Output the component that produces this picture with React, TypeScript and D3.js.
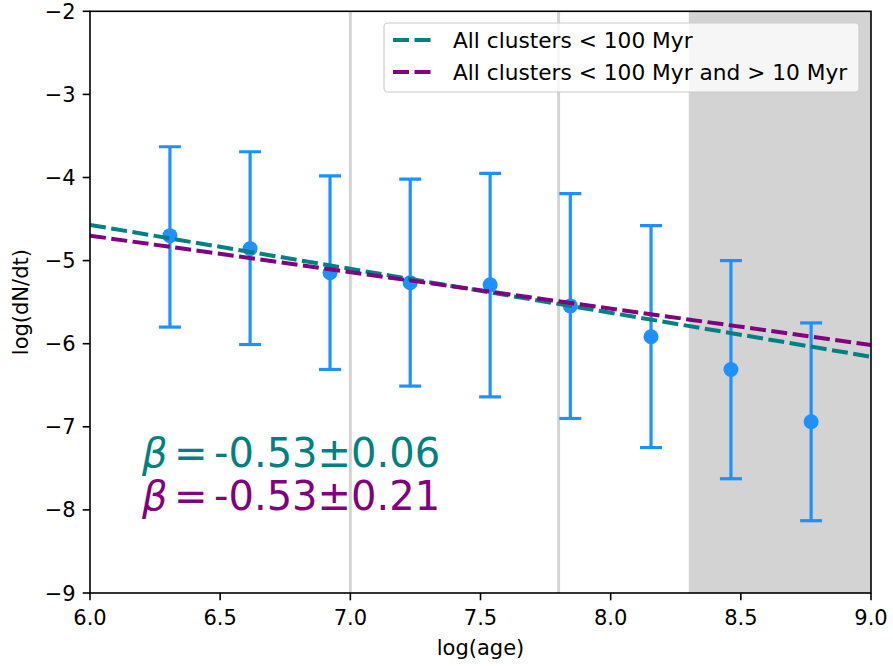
import React from "react";
import * as d3 from "d3";

const logAge = [6.307, 6.615, 6.922, 7.23, 7.537, 7.845, 8.155, 8.462, 8.77];
const logRate = [-4.7, -4.856, -5.146, -5.266, -5.29, -5.545, -5.916, -6.31, -6.94];
const errUpper = [-3.63, -3.69, -3.98, -4.02, -3.95, -4.195, -4.58, -5.0, -5.75];
const errLower = [-5.8, -6.01, -6.31, -6.51, -6.64, -6.9, -7.25, -7.625, -8.13];

const fitTealEnds = [-4.57, -6.157];
const fitPurpleEnds = [-4.70, -6.016];
const fitX = [6.0, 9.0];

const vLines = [7.0, 7.8];
const shadeSpan = [8.3, 9.0];

const xTicks = [6.0, 6.5, 7.0, 7.5, 8.0, 8.5, 9.0];
const yTicks = [-2, -3, -4, -5, -6, -7, -8, -9];

const legendLabels = ["All clusters < 100 Myr", "All clusters < 100 Myr and > 10 Myr"];
const betaTexts = ["-0.53\u00b10.06", "-0.53\u00b10.21"];

const W = 893, H = 666;
const L = 90, R = 871, T = 11.3, B = 593;
const FONT = "DejaVu Sans, sans-serif";
const TEAL = "#008080", PURPLE = "#800080", BLUE = "#1e90ff", GRAY = "#d3d3d3";
const FS = 21;

export default function App() {
  const x = d3.scaleLinear().domain([6, 9]).range([L, R]);
  const y = d3.scaleLinear().domain([-9, -2]).range([B, T]);
  const line = d3.line<[number, number]>().x(d => x(d[0])).y(d => y(d[1]));
  const teal: [number, number][] = fitX.map((v, i) => [v, fitTealEnds[i]]);
  const purple: [number, number][] = fitX.map((v, i) => [v, fitPurpleEnds[i]]);
  const minus = (v: number) => (v < 0 ? "\u2212" + Math.abs(v) : String(v));
  const cap = 11;
  const dash = "16,5.5";
  const tickLen = 7.3;

  return (
    <svg width={W} height={H} style={{ position: "absolute", left: 0, top: 0, background: "#fff" }} fontFamily={FONT}>
      <defs>
        <clipPath id="plot"><rect x={L} y={T} width={R - L} height={B - T} /></clipPath>
      </defs>
      <rect x={0} y={0} width={W} height={H} fill="#fff" />
      <g clipPath="url(#plot)">
        <rect x={x(shadeSpan[0])} y={T} width={x(shadeSpan[1]) - x(shadeSpan[0])} height={B - T} fill={GRAY} />
        {vLines.map(v => (
          <line key={v} x1={x(v)} x2={x(v)} y1={T} y2={B} stroke={GRAY} strokeWidth={3} />
        ))}
        {logAge.map((a, i) => (
          <g key={i} stroke={BLUE} strokeWidth={3.2}>
            <line x1={x(a)} x2={x(a)} y1={y(errUpper[i])} y2={y(errLower[i])} />
            <line x1={x(a) - cap} x2={x(a) + cap} y1={y(errUpper[i])} y2={y(errUpper[i])} />
            <line x1={x(a) - cap} x2={x(a) + cap} y1={y(errLower[i])} y2={y(errLower[i])} />
          </g>
        ))}
        {logAge.map((a, i) => (
          <circle key={"c" + i} cx={x(a)} cy={y(logRate[i])} r={7.5} fill={BLUE} />
        ))}
        <path d={line(teal) || ""} stroke={TEAL} strokeWidth={4} fill="none" strokeDasharray={dash} />
        <path d={line(purple) || ""} stroke={PURPLE} strokeWidth={4} fill="none" strokeDasharray={dash} />
      </g>
      <rect x={L} y={T} width={R - L} height={B - T} fill="none" stroke="#000" strokeWidth={1.6} />
      {xTicks.map(t => (
        <g key={t}>
          <line x1={x(t)} x2={x(t)} y1={B} y2={B + tickLen} stroke="#000" strokeWidth={1.6} />
          <text x={x(t)} y={B + 32} fontSize={FS} textAnchor="middle" fill="#000">{t.toFixed(1)}</text>
        </g>
      ))}
      {yTicks.map(t => (
        <g key={t}>
          <line x1={L - tickLen} x2={L} y1={y(t)} y2={y(t)} stroke="#000" strokeWidth={1.6} />
          <text x={L - tickLen - 7} y={y(t)} dy="0.36em" fontSize={FS} textAnchor="end" fill="#000">{minus(t)}</text>
        </g>
      ))}
      <text x={(L + R) / 2} y={655} fontSize={FS} textAnchor="middle" fill="#000">log(age)</text>
      <text transform={`translate(28,${(T + B) / 2}) rotate(-90)`} fontSize={FS} textAnchor="middle" fill="#000">log(dN/dt)</text>
      {betaTexts.map((s, i) => (
        <text key={i} x={142} y={467 + i * 42.5} fontSize={40} fill={i === 0 ? TEAL : PURPLE}>
          <tspan fontStyle="italic">β</tspan>
          <tspan dx={6.5}>=</tspan>
          <tspan dx={6.5}>{s}</tspan>
        </text>
      ))}
      <g>
        <rect x={384} y={23} width={475} height={69} rx={4} fill="#fff" fillOpacity={0.8} stroke="#ccc" strokeWidth={1.2} />
        {legendLabels.map((lab, i) => {
          const yy = 40 + i * 32;
          return (
            <g key={i}>
              <line x1={393} x2={432} y1={yy} y2={yy} stroke={i === 0 ? TEAL : PURPLE} strokeWidth={4} strokeDasharray={dash} />
              <text x={453} y={yy + 8} fontSize={21.7} fill="#000">{lab}</text>
            </g>
          );
        })}
      </g>
    </svg>
  );
}
